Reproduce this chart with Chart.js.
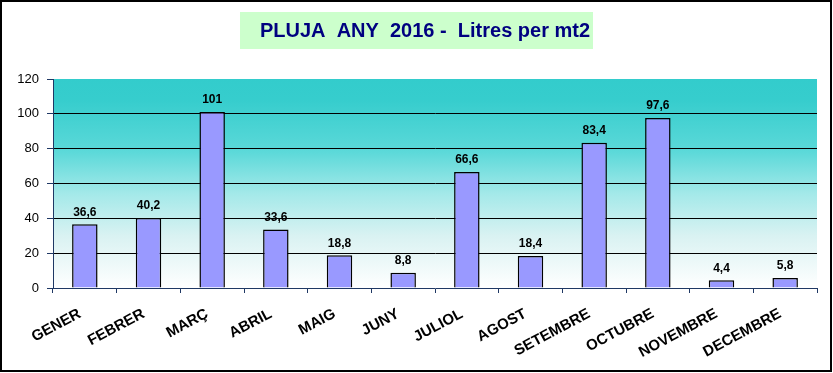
<!DOCTYPE html>
<html>
<head>
<meta charset="utf-8">
<script src="https://cdn.jsdelivr.net/npm/chart.js@4.4.1/dist/chart.umd.min.js"></script>
<style>
    body { margin: 0; background: #fff; }
    #wrap { position: relative; width: 833px; height: 373px; }
</style>
</head>
<body>
<div id="wrap"><canvas id="myChart" width="833" height="373"></canvas></div>
<script>
// data
const months = ['GENER', 'FEBRER', 'MARÇ', 'ABRIL', 'MAIG', 'JUNY', 'JULIOL', 'AGOST', 'SETEMBRE', 'OCTUBRE', 'NOVEMBRE', 'DECEMBRE'];
const rainLitres = [36.6, 40.2, 101, 33.6, 18.8, 8.8, 66.6, 18.4, 83.4, 97.6, 4.4, 5.8];
const yTicks = [0, 20, 40, 60, 80, 100, 120];
const titleText = 'PLUJA  ANY  2016 -  Litres per mt2';

const axisBlue = '#1F3864';
const fontFamily = 'Arial, "Liberation Sans", sans-serif';

// background: white page, gradient plot area, green title box + title, black frame
const backgroundPlugin = {
    id: 'backgroundPlugin',
    beforeDraw: function (chart) {
        const ctx = chart.ctx;
        const area = chart.chartArea;
        ctx.save();
        ctx.fillStyle = '#ffffff';
        ctx.fillRect(0, 0, chart.width, chart.height);

        let grad = ctx.createLinearGradient(0, area.top, 0, area.bottom);
        grad.addColorStop(0, '#33CCCC');
        grad.addColorStop(0.1, '#36CDCD');
        grad.addColorStop(0.35, '#5CD9D9');
        grad.addColorStop(0.55, '#A4E9E9');
        grad.addColorStop(0.75, '#D9F2F2');
        grad.addColorStop(1, '#FFFFFF');
        ctx.fillStyle = grad;
        ctx.fillRect(area.left, area.top, area.right - area.left, area.bottom - area.top);

        // title box, text sits a bit right of the box centre like the original
        ctx.fillStyle = '#CCFFCC';
        ctx.fillRect(240, 12, 353, 37);
        ctx.font = 'bold 20px ' + fontFamily;
        ctx.fillStyle = '#000080';
        ctx.textAlign = 'center';
        ctx.textBaseline = 'middle';
        ctx.fillText(titleText, 425, 31);

        // outer frame
        ctx.strokeStyle = '#000000';
        ctx.lineWidth = 2;
        ctx.strokeRect(1, 1, chart.width - 3, chart.height - 3);
        ctx.restore();
    }
};

// value labels above bars
const valueLabels = {
    id: 'valueLabels',
    afterDatasetsDraw: function (chart) {
        const ctx = chart.ctx;
        const meta = chart.getDatasetMeta(0);
        ctx.save();
        ctx.font = 'bold 12px ' + fontFamily;
        ctx.fillStyle = '#000000';
        ctx.textAlign = 'center';
        ctx.textBaseline = 'bottom';
        meta.data.forEach(function (bar, i) {
            let txt = String(rainLitres[i]).replace('.', ',');
            ctx.fillText(txt, bar.x, bar.y - 6);
        });
        ctx.restore();
    }
};

function setupBarChart() {
    const ctx = document.getElementById('myChart');
    const data = {
        labels: months,
        datasets: [{
            data: rainLitres,
            backgroundColor: '#9999FF',
            borderColor: '#000000',
            borderWidth: 1.5,
            barPercentage: 0.4,
            categoryPercentage: 1.0
        }]
    };
    const options = {
        responsive: false,
        animation: false,
        layout: {
            padding: {top: 79, left: 0, right: 16, bottom: 0}
        },
        plugins: {
            legend: {display: false},
            tooltip: {enabled: false},
            title: {display: false}
        },
        scales: {
            x: {
                offset: true,
                grid: {
                    offset: true,
                    drawOnChartArea: false,
                    tickLength: 5,
                    tickColor: axisBlue
                },
                border: {color: axisBlue, width: 1},
                ticks: {
                    color: '#000000',
                    font: {family: fontFamily, size: 15, weight: 'bold'},
                    minRotation: 28,
                    maxRotation: 28,
                    autoSkip: false,
                    padding: 12,
                    labelOffset: -5
                },
                afterFit: function (scale) {
                    scale.height = 85;
                }
            },
            y: {
                min: 0,
                max: 120,
                afterBuildTicks: function (scale) {
                    scale.ticks = yTicks.map(v => ({value: v}));
                },
                grid: {
                    color: function (c) {
                        let v = c.tick ? c.tick.value : 0;
                        return (v === 0 || v === 120) ? 'rgba(0,0,0,0)' : '#000000';
                    },
                    lineWidth: 1,
                    tickLength: 6,
                    tickColor: axisBlue
                },
                border: {color: axisBlue, width: 1},
                ticks: {
                    color: '#000000',
                    font: {family: fontFamily, size: 13},
                    padding: 8
                },
                afterFit: function (scale) {
                    scale.width = 53;
                }
            }
        }
    };

    const myBarChart = new Chart(ctx, {
        type: 'bar',
        data: data,
        options: options,
        plugins: [backgroundPlugin, valueLabels]
    });
}

setupBarChart();
</script>
</body>
</html>
